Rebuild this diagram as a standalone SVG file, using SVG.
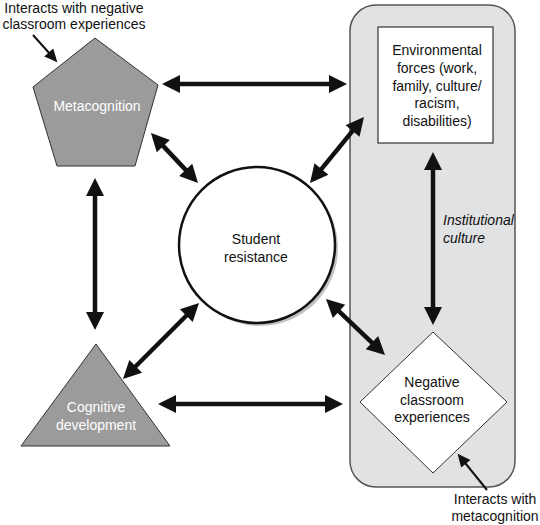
<svg xmlns="http://www.w3.org/2000/svg" width="540" height="525" viewBox="0 0 540 525">
<style>
text{font-family:"Liberation Sans",Arial,sans-serif;font-size:14px;fill:#111;text-anchor:middle}
.w{fill:#fff}
.conn{stroke:#111;stroke-width:4.5;fill:none;marker-start:url(#ah);marker-end:url(#ah)}
.ann{stroke:#111;stroke-width:2;fill:none;marker-end:url(#sh)}
.gshape{fill:#9b9b9b;stroke:#333;stroke-width:1}
</style>
<defs>
<marker id="ah" markerUnits="userSpaceOnUse" markerWidth="18" markerHeight="18" refX="13" refY="9" orient="auto-start-reverse" overflow="visible">
<path d="M0,0 L18,9 L0,18 z" fill="#111"/>
</marker>
<marker id="sh" markerUnits="userSpaceOnUse" markerWidth="14" markerHeight="12" refX="10" refY="6" orient="auto" overflow="visible">
<path d="M0,0 L13,6 L0,12 z" fill="#111"/>
</marker>
</defs>
<rect width="540" height="525" fill="#fff"/>
<g id="institution">
<rect x="350" y="5" width="165" height="482" rx="26" fill="#e1e2e4" stroke="#555" stroke-width="1.5"/>
<text x="443" y="225" style="font-style:italic;text-anchor:start">Institutional</text>
<text x="443" y="243" style="font-style:italic;text-anchor:start">culture</text>
</g>
<g id="environmental">
<rect x="378" y="27" width="115" height="116" fill="#fff" stroke="#333" stroke-width="1.2"/>
<text x="437" y="55">Environmental</text>
<text x="437" y="73">forces (work,</text>
<text x="437" y="91">family, culture/</text>
<text x="437" y="108">racism,</text>
<text x="437" y="126">disabilities)</text>
</g>
<g id="metacognition">
<polygon class="gshape" points="95,38 158,85 135,166 57,166 33,87"/>
<text class="w" x="97" y="111">Metacognition</text>
</g>
<g id="cognitive">
<polygon class="gshape" points="96,344 170,446 21,446"/>
<text class="w" x="96" y="412">Cognitive</text>
<text class="w" x="96" y="430">development</text>
</g>
<g id="student">
<circle cx="260" cy="248" r="78" fill="#999" opacity="0.6"/>
<circle cx="257" cy="245" r="78" fill="#fff" stroke="#111" stroke-width="2.5"/>
<text x="256" y="244">Student</text>
<text x="256" y="262">resistance</text>
</g>
<g id="negative">
<polygon points="433,332 507,402 433,473 360,402" fill="#fff" stroke="#333" stroke-width="1"/>
<text x="432" y="387">Negative</text>
<text x="432" y="405">classroom</text>
<text x="432" y="422">experiences</text>
</g>
<g id="note-top">
<text x="74" y="12.5">Interacts with negative</text>
<text x="74" y="29">classroom experiences</text>
</g>
<g id="note-bottom">
<text x="495" y="504">Interacts with</text>
<text x="495" y="521">metacognition</text>
</g>
<g id="connectors">
<line class="conn" x1="167" y1="84" x2="342" y2="84"/>
<line class="conn" x1="95" y1="183" x2="95" y2="325"/>
<line class="conn" x1="163" y1="404" x2="338" y2="404"/>
<line class="conn" x1="433" y1="157" x2="433" y2="320"/>
<line class="conn" x1="154.4" y1="136.6" x2="194.6" y2="179.4"/>
<line class="conn" x1="360.8" y1="120.9" x2="313.2" y2="179.1"/>
<line class="conn" x1="126.5" y1="375.5" x2="195.5" y2="306.5"/>
<line class="conn" x1="329.6" y1="302.4" x2="381.4" y2="351.6"/>
<line class="ann" x1="33" y1="35" x2="55.4" y2="60"/>
<line class="ann" x1="487" y1="490" x2="459.5" y2="456"/>
</g>
</svg>
